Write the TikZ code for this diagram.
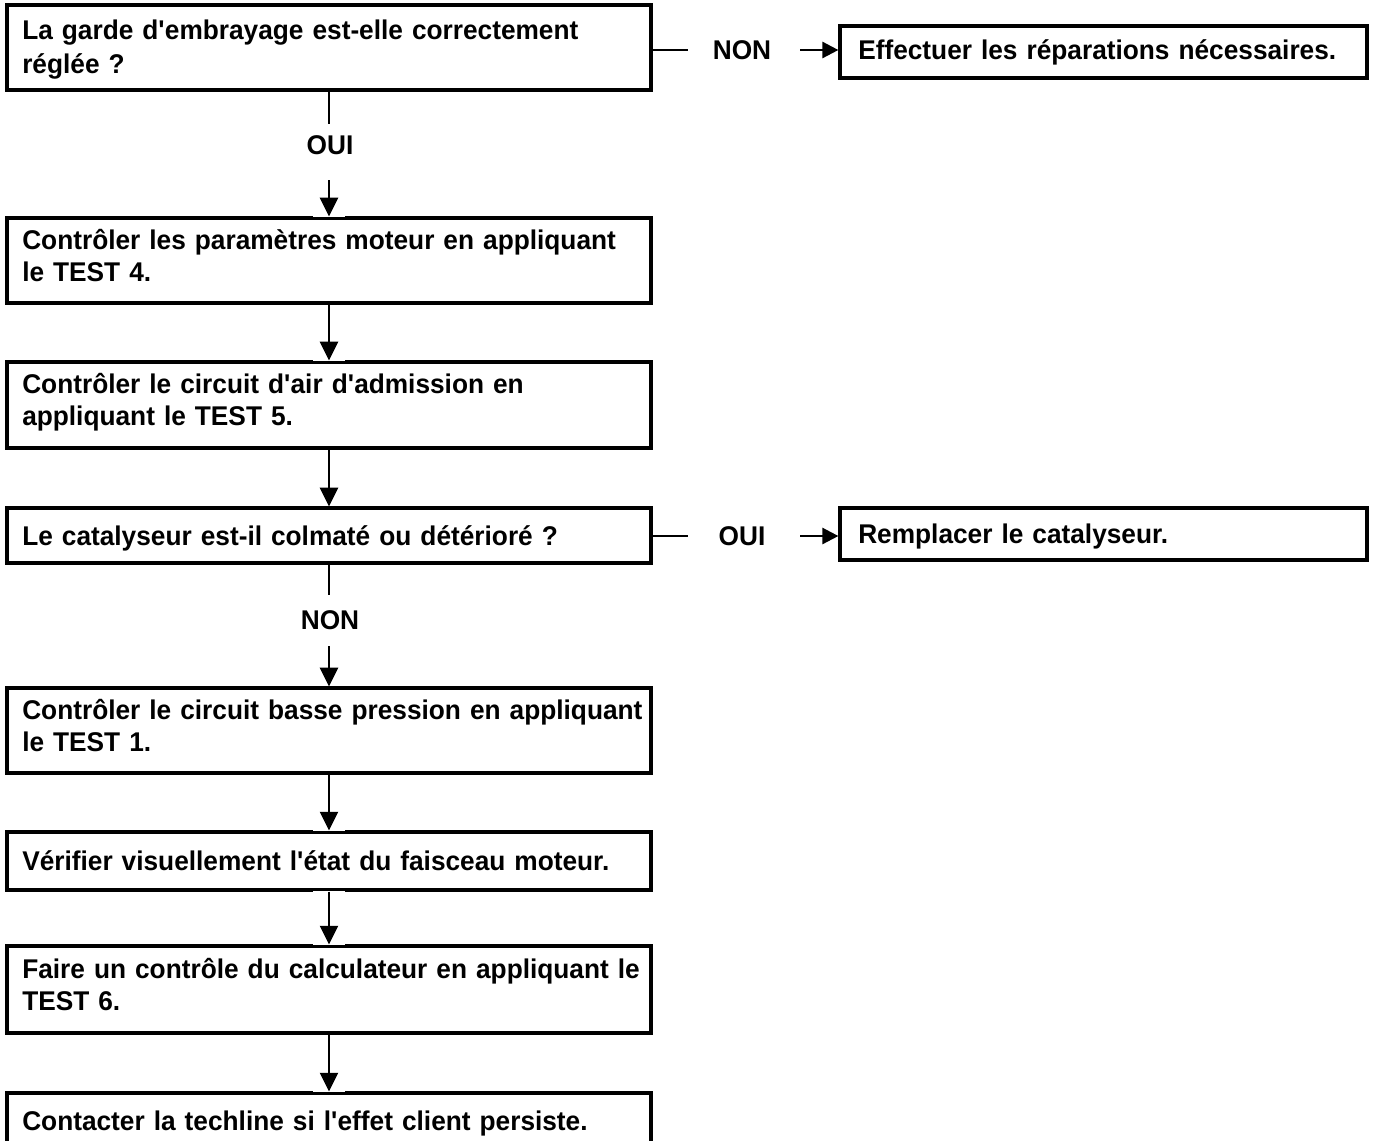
\documentclass[tikz,border=0pt]{standalone}
\usepackage{fontspec}
\setmainfont{Liberation Sans}[FakeStretch=0.97]
\usetikzlibrary{arrows.meta,calc,fit}
\newcommand{\ap}{\textquotesingle}
\begin{document}
\begin{tikzpicture}[x=0.75pt,y=-0.75pt,
  box/.style={draw,line width=2.4pt,inner sep=0pt,rectangle},
  txt/.style={anchor=base west,inner sep=0pt,text width=480pt,align=left,
              font=\fontsize{20.3}{24}\selectfont\bfseries},
  lbl/.style={inner sep=0pt,font=\fontsize{20.3}{24}\selectfont\bfseries},
  conn/.style={line width=1.9pt},
  varr/.style={conn,-{Triangle[width=13.5pt,length=14pt]}},
  harr/.style={conn,-{Triangle[width=12pt,length=12pt]}},
  gap/.style={fill=white,draw=none}]
\useasboundingbox (0,0) rectangle (1373,1140);
\clip (0,0) rectangle (1373,1140);

% main column of steps
\node[box,fit={(7,5)(651,90)}]     (b1) {};
\node[box,fit={(7,218)(651,303)}]  (b2) {};
\node[box,fit={(7,362)(651,448)}]  (b3) {};
\node[box,fit={(7,508)(651,563)}]  (b4) {};
\node[box,fit={(7,688)(651,773)}]  (b5) {};
\node[box,fit={(7,832)(651,890)}]  (b6) {};
\node[box,fit={(7,946)(651,1033)}] (b7) {};
\node[box,fit={(7,1093)(651,1152)}] (b8) {};
% side actions
\node[box,fit={(840,26)(1367,78)}]   (r1) {};
\node[box,fit={(840,508)(1367,560)}] (r2) {};

% texts
\node[txt] (t1) at (22,39)   {La garde d\ap embrayage est-elle correctement\\[2pt]réglée ?};
\node[txt] (t2) at (22,249)  {Contrôler les paramètres moteur en appliquant\\le TEST 4.};
\node[txt] (t3) at (22,393)  {Contrôler le circuit d\ap air d\ap admission en\\appliquant le TEST 5.};
\node[txt] (t4) at (22,545)  {Le catalyseur est-il colmaté ou détérioré ?};
\node[txt] (t5) at (22,719)  {Contrôler le circuit basse pression en appliquant\\le TEST 1.};
\node[txt] (t6) at (22,870)  {Vérifier visuellement l\ap état du faisceau moteur.};
\node[txt] (t7) at (22,978)  {Faire un contrôle du calculateur en appliquant le\\TEST 6.};
\node[txt] (t8) at (22,1130) {Contacter la techline si l\ap effet client persiste.};
\node[txt] (s1) at (858,59)  {Effectuer les réparations nécessaires.};
\node[txt] (s2) at (858,543) {Remplacer le catalyseur.};

% branch labels
\node[lbl] (n1) at (742,50)  {NON};
\node[lbl] (y1) at (330,145) {OUI};
\node[lbl] (y2) at (742,536) {OUI};
\node[lbl] (n2) at (330,620) {NON};

% small white breaks in the frames where the arrows meet them
\fill[gap] ($(b2.north)+(-16,-2)$) rectangle ($(b2.north)+(16,0.3)$);
\fill[gap] ($(b3.north)+(-16,-2)$) rectangle ($(b3.north)+(16,0.3)$);
\fill[gap] ($(b6.north)+(-16,-2)$) rectangle ($(b6.north)+(16,0.3)$);
\fill[gap] ($(b6.south)+(-16,-0.3)$) rectangle ($(b6.south)+(16,2)$);
\fill[gap] ($(b7.north)+(-16,-2)$) rectangle ($(b7.north)+(16,0.3)$);
\fill[gap] ($(b8.north)+(-16,-2)$) rectangle ($(b8.north)+(16,0.3)$);

% connectors
\draw[conn] (b1.east |- n1) -- ++(35,0);
\draw[harr] ($(r1.west |- n1)+(-38,0)$) -- (r1.west |- n1);
\draw[conn] (b1.south) -- ++(0,32);
\draw[varr] ($(b2.north)+(0,-36)$) -- (b2.north);
\draw[varr] (b2.south) -- (b3.north);
\draw[varr] (b3.south) -- (b4.north);
\draw[conn] (b4.east |- y2) -- ++(35,0);
\draw[harr] ($(r2.west |- y2)+(-38,0)$) -- (r2.west |- y2);
\draw[conn] (b4.south) -- ++(0,30);
\draw[varr] ($(b5.north)+(0,-40)$) -- (b5.north);
\draw[varr] (b5.south) -- (b6.north);
\draw[varr] (b6.south) -- (b7.north);
\draw[varr] (b7.south) -- (b8.north);
\end{tikzpicture}
\end{document}
